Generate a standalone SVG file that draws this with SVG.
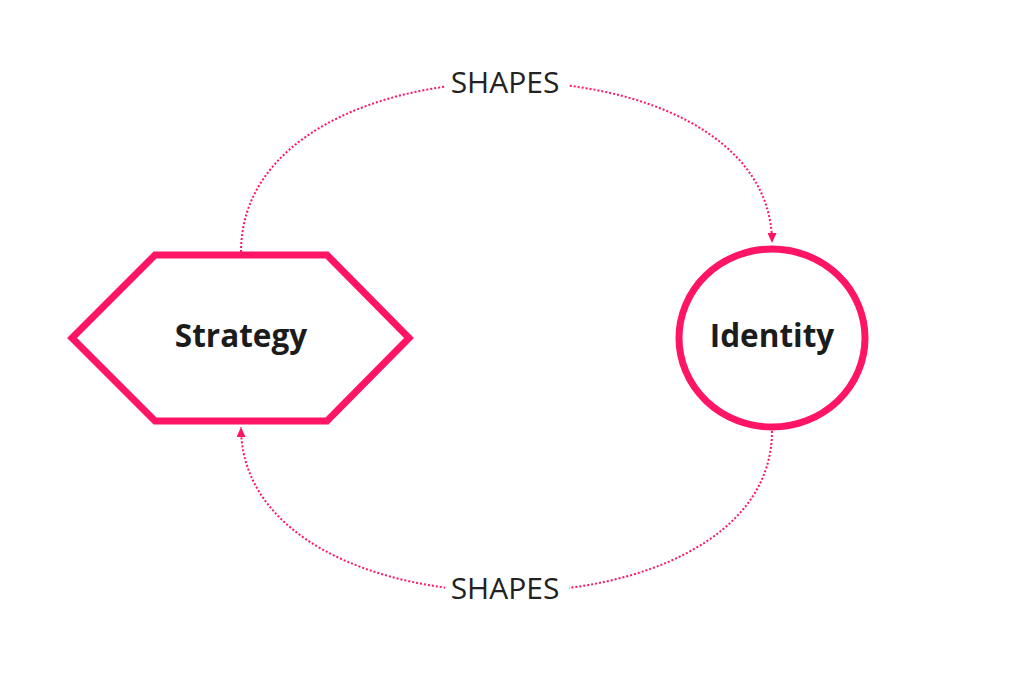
<svg xmlns="http://www.w3.org/2000/svg" width="1024" height="679" viewBox="0 0 1024 679">
<style>
.shape{fill:#ffffff;stroke:#ff1466;stroke-width:7;stroke-linejoin:miter}
.conn{fill:none;stroke:#ff1466;stroke-width:2;stroke-dasharray:2 2}
.node-label{font-family:"Open Sans","Noto Sans",sans-serif;font-weight:700;font-size:31.5px;fill:#1c1c1c;text-anchor:middle}
.edge-label{font-family:"Open Sans","Noto Sans",sans-serif;font-size:30px;fill:#222222;text-anchor:middle}
.label-bg{fill:#ffffff}
</style>
<defs>
<marker id="arrow" viewBox="0 0 10 9" refX="10" refY="4.5" markerWidth="10" markerHeight="9" markerUnits="userSpaceOnUse" orient="auto">
<path d="M0,0 L10,4.5 L0,9 Z" fill="#ff1466"/>
</marker>
</defs>
<rect width="1024" height="679" fill="#ffffff"/>
<g id="connectors">
<g id="edge-strategy-identity">
<path class="conn" d="M241,252 C241,27 772,27 772,243" marker-end="url(#arrow)"/>
<rect class="label-bg" x="445" y="66" width="124" height="34"/>
<text class="edge-label" x="505" y="93">SHAPES</text>
</g>
<g id="edge-identity-strategy">
<path class="conn" d="M772,431 C772,646 241,646 241,427" marker-end="url(#arrow)"/>
<rect class="label-bg" x="445" y="572" width="124" height="34"/>
<text class="edge-label" x="505" y="599">SHAPES</text>
</g>
</g>
<g id="node-strategy">
<polygon class="shape" points="155,255 327,255 409,338 327,421 155,421 72,338"/>
<text class="node-label" x="241" y="347">Strategy</text>
</g>
<g id="node-identity">
<ellipse class="shape" cx="772" cy="338" rx="93" ry="89"/>
<text class="node-label" x="772" y="347">Identity</text>
</g>
</svg>
